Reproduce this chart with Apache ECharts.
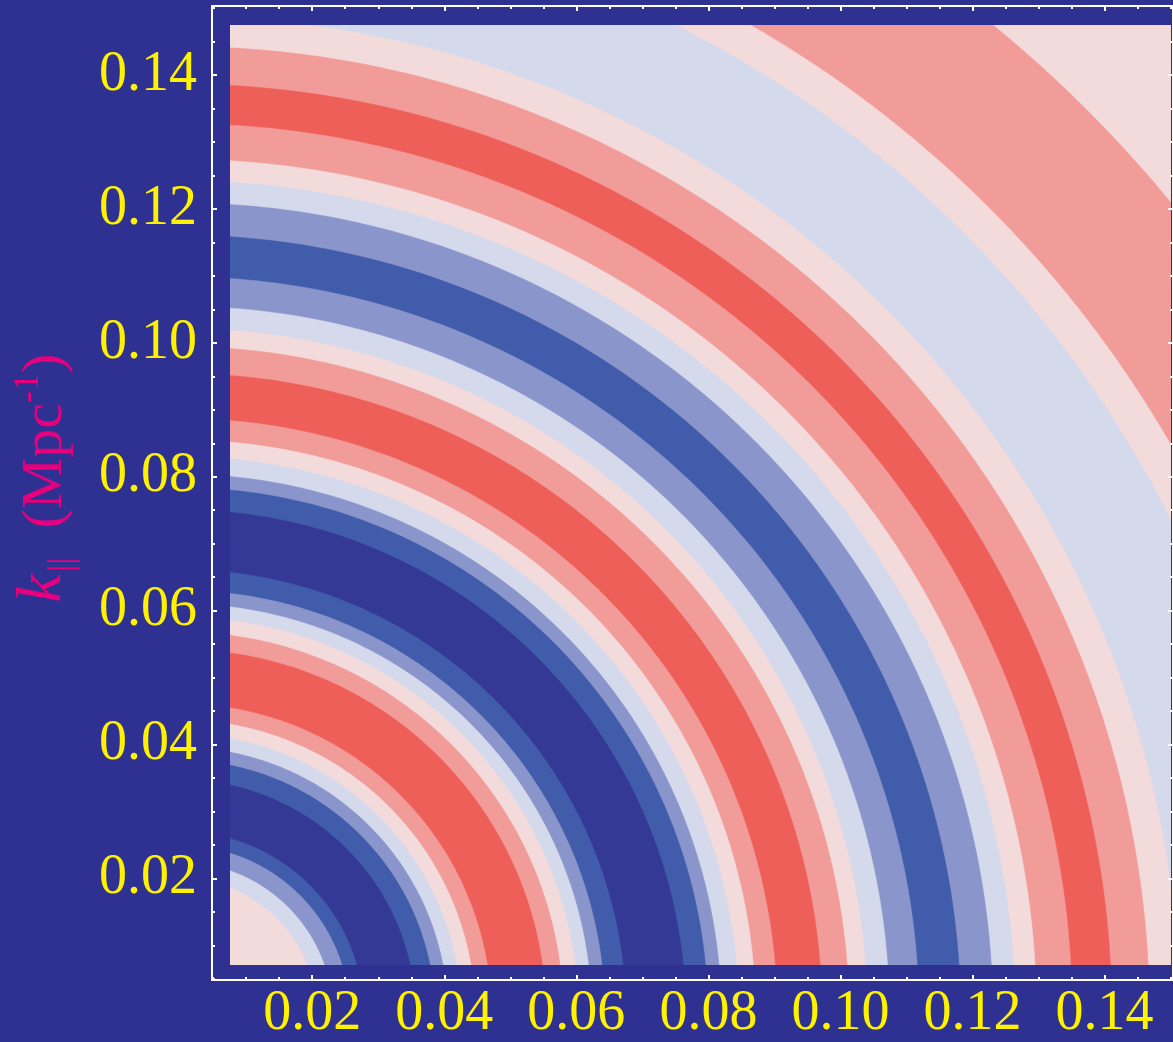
<!DOCTYPE html>
<html>
<head>
<meta charset="utf-8">
<script src="https://cdn.jsdelivr.net/npm/echarts@6/dist/echarts.min.js"></script>
<style>
  html, body { margin: 0; padding: 0; background: #2E3192; }
  #chart { width: 1173px; height: 1042px; }
</style>
</head>
<body>
<div id="chart"></div>
<script>
// Contour bands of the radial pattern: outer radius k = sqrt(k_perp^2 + k_par^2) of each band (Mpc^-1)
const bandEdges = [
  0.0204, 0.0228, 0.0253, 0.0274, 0.0351, 0.0380, 0.0399, 0.0419, 0.0440, 0.0464,
  0.0545, 0.0571, 0.0593, 0.0613, 0.0633, 0.0664, 0.0753, 0.0786, 0.0806, 0.0832,
  0.0857, 0.0889, 0.0956, 0.0996, 0.1023, 0.1056, 0.1100, 0.1162, 0.1210, 0.1243,
  0.1275, 0.1328, 0.1387, 0.1443, 0.1487, 0.1649, 0.1702, 0.1908, 0.2200
];
// Contour level filling each band (0 = lowest, 6 = highest)
const bandLevels = [
  4, 3, 2, 1, 0, 1, 2, 3, 4, 5,
  6, 5, 4, 3, 2, 1, 0, 1, 2, 3,
  4, 5, 6, 5, 4, 3, 2, 1, 2, 3,
  4, 5, 6, 5, 4, 3, 4, 5, 4
];
const majorTicks = [0.02, 0.04, 0.06, 0.08, 0.10, 0.12, 0.14];
const minorTicks = [0.005, 0.01, 0.015, 0.025, 0.03, 0.035, 0.045, 0.05, 0.055, 0.065, 0.07, 0.075,
                    0.085, 0.09, 0.095, 0.105, 0.11, 0.115, 0.125, 0.13, 0.135, 0.145, 0.15];

// Styling / layout
const BG = '#2E3192';
const levelColors = ['#343995', '#405CAA', '#8A95CB', '#D4D9EC', '#F3DBDC', '#F19C99', '#EF5F5A'];
const LABEL_YELLOW = '#FFF200';
const TITLE_PINK = '#E6007E';
const SERIF = '"Liberation Serif", "Times New Roman", serif';
const plotRange = [0.0075, 0.1475];
const frameX = [0.00482, 0.15037];
const frameY = [0.00482, 0.15033];

const chart = echarts.init(document.getElementById('chart'), null, { renderer: 'canvas' });

function frameAxis(kind, position, ticks, len, withLabels) {
  const range = kind === 'x' ? frameX : frameY;
  const ax = {
    type: 'value',
    gridIndex: 0,
    position: position,
    min: range[0],
    max: range[1],
    axisLine: { show: len === 5, lineStyle: { color: '#FFFFFF', width: 2 } },
    axisTick: { show: true, inside: true, length: len, customValues: ticks,
                lineStyle: { color: '#FFFFFF', width: 2 } },
    axisLabel: { show: false },
    splitLine: { show: false },
    z: 5
  };
  if (withLabels) {
    ax.axisLabel = {
      show: true,
      customValues: ticks,
      color: LABEL_YELLOW,
      fontFamily: SERIF,
      fontSize: 56,
      margin: kind === 'x' ? 6 : 15,
      formatter: v => v.toFixed(2)
    };
  }
  return ax;
}

const hiddenPlotAxis = {
  type: 'value', gridIndex: 1, min: plotRange[0], max: plotRange[1],
  axisLine: { show: false }, axisTick: { show: false }, axisLabel: { show: false },
  splitLine: { show: false }
};

const seriesData = bandEdges.map((r, i) => [r, bandLevels[i]]).reverse();

const option = {
  backgroundColor: BG,
  animation: false,
  grid: [
    { left: 212, top: 6, width: 978, height: 977 },
    { left: 230, top: 25, width: 941, height: 940 }
  ],
  xAxis: [
    frameAxis('x', 'bottom', majorTicks, 5, true),
    frameAxis('x', 'bottom', minorTicks, 3, false),
    frameAxis('x', 'top', majorTicks, 5, false),
    frameAxis('x', 'top', minorTicks, 3, false),
    hiddenPlotAxis
  ],
  yAxis: [
    frameAxis('y', 'left', majorTicks, 5, true),
    frameAxis('y', 'left', minorTicks, 3, false),
    frameAxis('y', 'right', majorTicks, 5, false),
    frameAxis('y', 'right', minorTicks, 3, false),
    hiddenPlotAxis
  ],
  series: [{
    type: 'custom',
    coordinateSystem: 'cartesian2d',
    xAxisIndex: 4,
    yAxisIndex: 4,
    clip: true,
    silent: true,
    data: seriesData,
    renderItem: function (params, api) {
      const r = api.value(0);
      const level = api.value(1);
      const steps = 120;
      const pts = [api.coord([0, 0])];
      for (let i = 0; i <= steps; i++) {
        const t = (i / steps) * Math.PI / 2;
        pts.push(api.coord([r * Math.cos(t), r * Math.sin(t)]));
      }
      return {
        type: 'polygon',
        shape: { points: pts },
        style: { fill: levelColors[level], stroke: levelColors[level], lineWidth: 0.5 }
      };
    }
  }],
  // Vertical axis title: k_|| (Mpc^-1)
  graphic: [{
    type: 'text',
    x: 42,
    y: 478,
    rotation: Math.PI / 2,
    style: {
      text: '{k|k}{sub|||}{n|  (Mpc}{sup|-1}{n|)}',
      align: 'center',
      verticalAlign: 'middle',
      fill: TITLE_PINK,
      rich: {
        k: { fontFamily: SERIF, fontStyle: 'italic', fontSize: 64, fill: TITLE_PINK, lineHeight: 66, verticalAlign: 'bottom' },
        sub: { fontFamily: SERIF, fontSize: 36, fill: TITLE_PINK, lineHeight: 66, verticalAlign: 'bottom', padding: [0, 0, -6, 2] },
        n: { fontFamily: SERIF, fontSize: 58, fill: TITLE_PINK, lineHeight: 66, verticalAlign: 'bottom' },
        sup: { fontFamily: SERIF, fontSize: 36, fill: TITLE_PINK, lineHeight: 66, verticalAlign: 'top', padding: [2, 0, 0, 0] }
      }
    }
  }]
};

chart.setOption(option);
</script>
</body>
</html>
